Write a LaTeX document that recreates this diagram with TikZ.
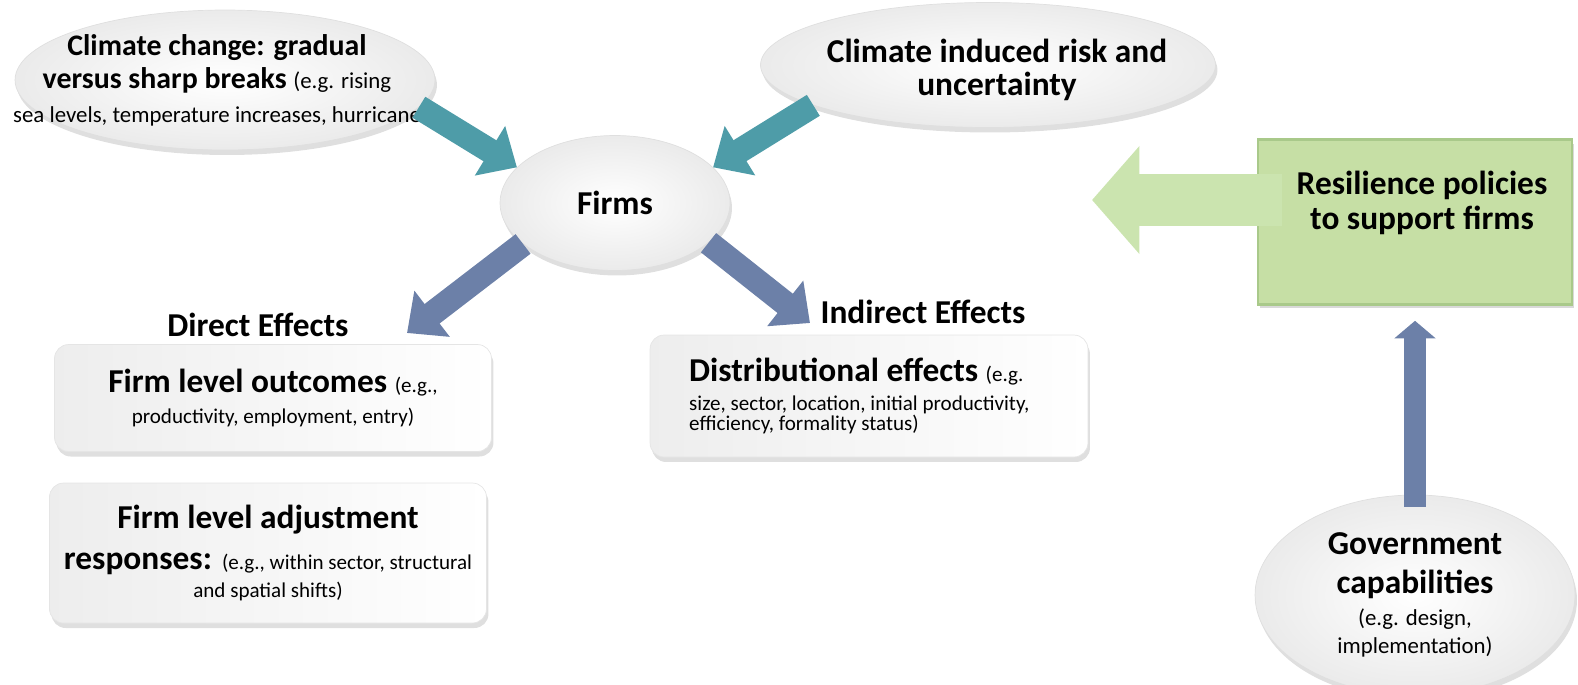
\documentclass[tikz,border=0pt]{standalone}
\usepackage{fontspec}
\setmainfont{Carlito}
\usetikzlibrary{shapes.geometric,arrows.meta,shadows}

\definecolor{tealarr}{HTML}{4E9CA8}
\definecolor{bluearr}{HTML}{6C80A8}
\definecolor{leaf}{HTML}{C6DFA5}
\definecolor{leafedge}{HTML}{A9C98A}
\definecolor{leaflight}{HTML}{CBE4AF}

\newcommand{\headfont}{\fontsize{19}{23}\selectfont\bfseries}
\newcommand{\notefont}{\fontsize{12}{15}\selectfont\mdseries}
\newcommand{\ovalnote}{\fontsize{13}{16}\selectfont\mdseries}

\tikzset{
    blob/.style={ellipse, draw=gray!25, inner color=white, outer color=gray!16,
        drop shadow={opacity=.25, shadow xshift=.04cm, shadow yshift=-.1cm}},
    card/.style={rectangle, rounded corners=8pt, draw=gray!20, left color=gray!14, right color=white,
        drop shadow={opacity=.25, shadow xshift=.04cm, shadow yshift=-.1cm}},
    headtxt/.style={font=\headfont, align=center},
    tealarrow/.style={draw=tealarr, line width=14pt, -{Triangle[width=32pt,length=18pt]}},
    bluearrow/.style={draw=bluearr, line width=14pt, -{Triangle[width=32pt,length=18pt]}},
    greenarrow/.style={draw=leaflight, line width=30pt, -{Triangle[width=60pt,length=27pt]}},
    uparrow/.style={draw=bluearr, line width=13pt, -{Triangle[width=23pt,length=10pt]}}
}

\begin{document}
\begin{tikzpicture}[x=0.02cm,y=-0.02cm]
    \useasboundingbox (0,0) rectangle (1578,684);

    % climate drivers and the firms
    \node[blob, minimum width=8.4cm, minimum height=2.8cm] (clim) at (225,80) {};
    \node[headtxt, font=\fontsize{17}{19}\selectfont\bfseries] (climtxt) at (217,80)
        {Climate change: gradual\\versus sharp breaks {\ovalnote (e.g. rising}\\{\ovalnote sea levels, temperature increases, hurricane}};
    \node[blob, minimum width=9.1cm, minimum height=2.5cm] (risk) at (988,65) {};
    \node[headtxt] (risktxt) at (997,70) {Climate induced risk and\\[-4pt]uncertainty};
    \node[blob, minimum width=4.6cm, minimum height=2.7cm, font=\headfont] (firms) at (615,203) {Firms};

    % effects
    \node[headtxt] (direct) at (258,325) {Direct Effects};
    \node[headtxt] (indirect) at (923,312) {Indirect Effects};
    \node[card, minimum width=8.74cm, minimum height=2.14cm, headtxt] (outcomes) at (273,398)
        {Firm level outcomes {\notefont (e.g.,}\\[-5pt]{\notefont productivity, employment, entry)}};
    \node[card, minimum width=8.74cm, minimum height=2.8cm, headtxt] (adjust) at (268,553)
        {Firm level adjustment\\responses: {\notefont (e.g., within sector, structural}\\[-7pt]{\notefont and spatial shifts)}};
    \node[card, minimum width=8.76cm, minimum height=2.44cm] (distrib) at (869,396) {};
    \node[headtxt, align=left, anchor=west] (distribtxt) at (683,396)
        {Distributional effects {\notefont (e.g.}\\[-7pt]{\notefont size, sector, location, initial productivity,}\\[-11.5pt]{\notefont efficiency, formality status)}};

    % policy side
    \node[rectangle, fill=leaf, draw=leafedge, line width=1.5pt, minimum width=6.28cm, minimum height=3.3cm,
        drop shadow={opacity=.3, shadow xshift=.04cm, shadow yshift=-.08cm}] (policy) at (1415,222) {};
    \node[headtxt] (policytxt) at (1422,203) {Resilience policies\\[-3pt]to support firms};
    \node[blob, minimum width=6.4cm, minimum height=4cm, headtxt] (gov) at (1415,595)
        {Government\\[-1pt]capabilities\\[-5pt]{\ovalnote (e.g. design,}\\[-7pt]{\ovalnote implementation)}};

    % arrows
    \coordinate (dtip) at (407,333);
    \coordinate (itip) at (810,323);
    \coordinate (ptip) at (1092,200);
    \draw[tealarrow] (clim.-8) -- (firms.160);
    \draw[tealarrow] (risk.193) -- (firms.20);
    \draw[bluearrow] (firms.204) -- (dtip);
    \draw[bluearrow] (firms.-23) -- (itip);
    \draw[greenarrow, shorten <=-0.5cm] (policy.west |- ptip) -- (ptip);
    \draw[uparrow, shorten <=-0.24cm, shorten >=0.3cm] (gov.north) -- (policy.south);
\end{tikzpicture}
\end{document}
